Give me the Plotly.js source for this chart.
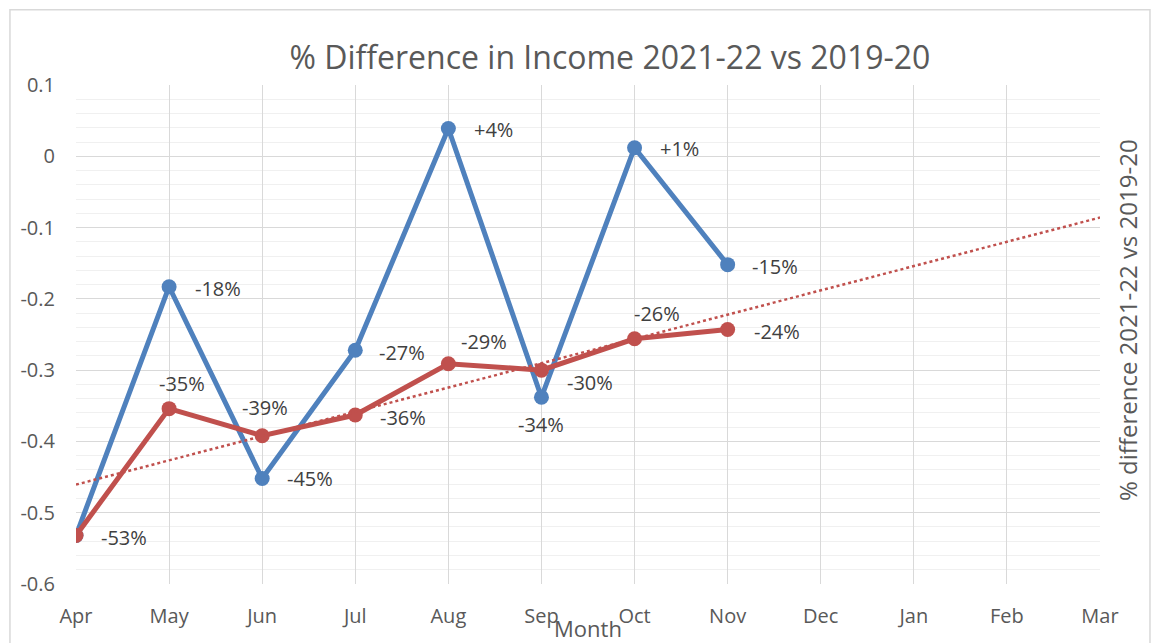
<!DOCTYPE html>
<html>
<head>
<meta charset="utf-8">
<script src="https://cdn.plot.ly/plotly-3.0.1.min.js"></script>
<style>html,body{margin:0;padding:0;background:#fff;}#chart{width:1153px;height:643px;}</style>
</head>
<body>
<div id="chart"></div>
<script>
// ---- data ----
const months = ['Apr','May','Jun','Jul','Aug','Sep','Oct','Nov','Dec','Jan','Feb','Mar'];
const blueMonths = ['Apr','May','Jun','Jul','Aug','Sep','Oct','Nov'];
const blueValues = [-0.532, -0.183, -0.452, -0.272, 0.039, -0.338, 0.012, -0.152];
const redMonths = ['Apr','May','Jun','Jul','Aug','Sep','Oct','Nov'];
const redValues = [-0.532, -0.354, -0.392, -0.363, -0.291, -0.300, -0.256, -0.243];
const yTickVals = [0.1, 0, -0.1, -0.2, -0.3, -0.4, -0.5, -0.6];
const yTickText = ['0.1', '0', '-0.1', '-0.2', '-0.3', '-0.4', '-0.5', '-0.6'];
const chartTitle = '% Difference in Income 2021-22 vs 2019-20';
const xTitle = 'Month';
const yTitle = '% difference 2021-22 vs 2019-20';

// ---- label placement (pixels): [xanchor, xshift, yshift, show] ----
const blueLabelPos = [['left',23,-2,1],['left',24,-2,1],['left',23,0,1],['left',22,-2,1],['left',24,-1,1],['center',0,-27,1],['left',23,-1,1],['left',22,-2,1]];
const redLabelPos  = [['left',23,-2,0],['center',13,25,1],['center',3,28,1],['left',23,-2,1],['center',36,22,1],['left',24,-12,1],['center',22,25,1],['left',24,-2,1]];

const BLUE = '#4f81bd', RED = '#c0504d';
const FONT = 'Open Sans, Noto Sans, sans-serif';

// linear trendline (least squares) of the red series, as Excel draws it
function trend(vals, n) {
  const m = vals.length;
  let sx = 0, sy = 0, sxx = 0, sxy = 0;
  vals.forEach((v, i) => { sx += i; sy += v; sxx += i * i; sxy += i * v; });
  const b = (m * sxy - sx * sy) / (m * sxx - sx * sx);
  const a = (sy - b * sx) / m;
  const out = [];
  for (let i = 0; i < n; i++) out.push(a + b * i);
  return out;
}
const trendValues = trend(redValues, months.length);

function pct(v) {
  const r = Math.round(v * 100);
  return (r > 0 ? '+' : '') + r + '%';
}

const traces = [
  { x: blueMonths, y: blueValues, type: 'scatter', mode: 'lines+markers', name: 'Income % difference',
    line: { color: BLUE, width: 5 }, marker: { color: BLUE, size: 15 }, showlegend: false, hoverinfo: 'x+y' },
  { x: redMonths, y: redValues, type: 'scatter', mode: 'lines+markers', name: 'Income % difference (cumulative)',
    line: { color: RED, width: 5 }, marker: { color: RED, size: 15 }, showlegend: false, hoverinfo: 'x+y' },
  { x: months, y: trendValues, type: 'scatter', mode: 'lines', name: 'Linear trend',
    line: { color: RED, width: 2.5, dash: 'dot' }, showlegend: false, hoverinfo: 'skip' }
];

const annotations = [];
function addLabels(xs, vals, pos) {
  vals.forEach((v, i) => {
    if (!pos[i][3]) return;
    annotations.push({ x: xs[i], y: v, xref: 'x', yref: 'y', text: pct(v), showarrow: false,
      xanchor: pos[i][0], yanchor: 'middle', xshift: pos[i][1], yshift: pos[i][2],
      font: { family: FONT, size: 20, color: '#404040' } });
  });
}
addLabels(blueMonths, blueValues, blueLabelPos);
addLabels(redMonths, redValues, redLabelPos);

annotations.push({ xref: 'paper', yref: 'paper', x: 1.0264, y: 0.529, text: yTitle, textangle: -90,
  showarrow: false, xanchor: 'center', yanchor: 'middle', font: { family: FONT, size: 24, color: '#595959' } });

const layout = {
  width: 1153, height: 643,
  margin: { l: 76, r: 53, t: 85, b: 59, pad: 0 },
  paper_bgcolor: '#ffffff', plot_bgcolor: '#ffffff',
  font: { family: FONT, color: '#595959' },
  title: { text: chartTitle, font: { family: FONT, size: 32, color: '#595959' },
    xref: 'container', yref: 'container', x: 0.529, y: 0.91, xanchor: 'center', yanchor: 'middle' },
  xaxis: {
    type: 'category', categoryorder: 'array', categoryarray: months, range: [0, months.length - 1],
    showgrid: true, gridcolor: '#d9d9d9', gridwidth: 1, zeroline: false, showline: false,
    ticks: '', ticklabelstandoff: 18, tickfont: { family: FONT, size: 20, color: '#595959' },
    title: { text: xTitle, font: { family: FONT, size: 22, color: '#595959' }, standoff: 0 },
    automargin: false, fixedrange: true
  },
  yaxis: {
    range: [-0.6, 0.1], tickvals: yTickVals, ticktext: yTickText,
    showgrid: true, gridcolor: '#d9d9d9', gridwidth: 1, zeroline: false, showline: false,
    minor: { dtick: 0.02, tick0: 0, showgrid: true, gridcolor: '#f0f0f0', gridwidth: 1 },
    ticks: '', ticklabelstandoff: 20, tickfont: { family: FONT, size: 20, color: '#595959' },
    automargin: false, fixedrange: true
  },
  shapes: [
    { type: 'rect', xref: 'paper', yref: 'paper', x0: -0.0645, x1: 1.0488, y0: -0.13, y1: 1.151,
      line: { color: '#d9d9d9', width: 1.5 }, fillcolor: 'rgba(0,0,0,0)', layer: 'below' }
  ],
  annotations: annotations,
  showlegend: false
};

Plotly.newPlot('chart', traces, layout, { displayModeBar: false, staticPlot: true });
</script>
</body>
</html>
